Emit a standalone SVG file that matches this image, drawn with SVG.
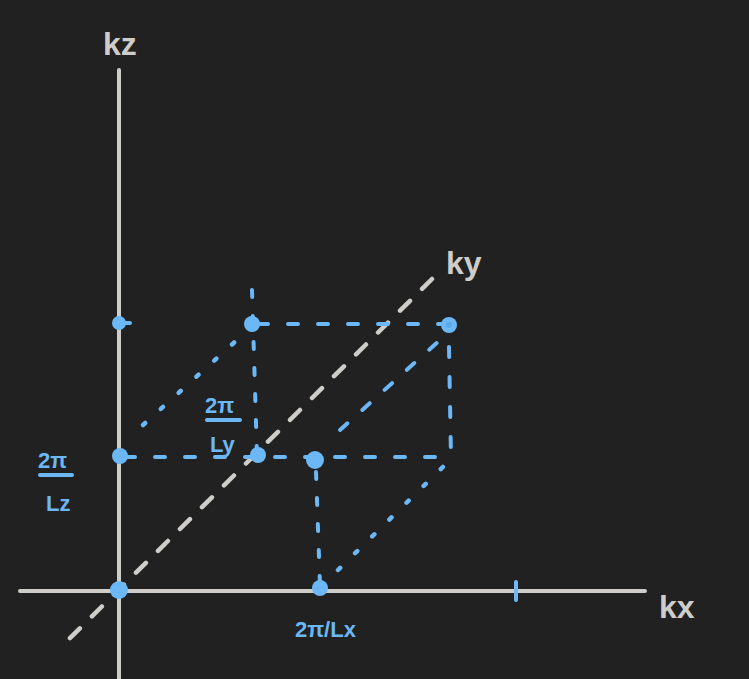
<svg xmlns="http://www.w3.org/2000/svg" width="749" height="679" viewBox="0 0 749 679">
<style>
.axis{stroke:#cfcdca;stroke-width:4;stroke-linecap:round;fill:none}
.dash{stroke:#cfcdca;stroke-width:4.5;stroke-linecap:round;fill:none;stroke-dasharray:14 17}
.b{stroke:#6cb8f7;stroke-width:4;stroke-linecap:round;fill:none}
.bd{stroke:#6cb8f7;stroke-width:4;stroke-linecap:round;fill:none;stroke-dasharray:7 19}
.bdl{stroke:#6cb8f7;stroke-width:4;stroke-linecap:round;fill:none;stroke-dasharray:10 20}
.bdot{stroke:#6cb8f7;stroke-width:4.5;stroke-linecap:round;fill:none;stroke-dasharray:3 21}
.pt{fill:#6cb8f7}
.lw{font-family:"Liberation Sans",sans-serif;fill:#cfcdca;font-size:32px;font-weight:bold}
.lb{font-family:"Liberation Sans",sans-serif;fill:#6cb8f7;font-size:22px;font-weight:bold}
</style>
<rect width="749" height="679" fill="#212121"/>
<g id="connectors">
<line class="axis" x1="119" y1="70" x2="119" y2="679"/>
<line class="axis" x1="20" y1="591" x2="645" y2="591"/>
<line class="dash" x1="432" y1="279" x2="58" y2="650"/>
<line class="b" x1="516" y1="582" x2="516" y2="600"/>
<line class="b" x1="119" y1="323" x2="130" y2="323"/>
<line class="bdl" x1="125" y1="457" x2="450" y2="457"/>
<line class="bdl" x1="258" y1="324" x2="446" y2="324"/>
<line class="bd" x1="252" y1="290" x2="257" y2="455"/>
<line class="bdl" x1="449" y1="347" x2="451" y2="457"/>
<line class="bdot" x1="143" y1="425" x2="248" y2="330"/>
<line class="bdot" x1="338" y1="570" x2="450" y2="460"/>
<line class="bd" x1="316" y1="472" x2="320" y2="585"/>
<line class="bdl" x1="340" y1="430" x2="440" y2="340"/>
</g>
<g id="origin"><circle class="pt" cx="119" cy="590" r="9"/></g>
<g id="z1"><circle class="pt" cx="120" cy="456" r="8"/></g>
<g id="z2"><circle class="pt" cx="119" cy="323" r="7"/></g>
<g id="p-yz"><circle class="pt" cx="252" cy="324" r="8"/></g>
<g id="p-xyz"><circle class="pt" cx="449" cy="325" r="8"/><circle cx="449" cy="325" r="3" fill="#5aa8e8"/></g>
<g id="p-y"><circle class="pt" cx="258" cy="455" r="8"/></g>
<g id="p-xz"><circle class="pt" cx="315" cy="460" r="9"/></g>
<g id="p-x"><circle class="pt" cx="320" cy="588" r="8"/></g>
<g id="labels">
<text class="lw" x="103" y="55">kz</text>
<text class="lw" x="446" y="274">ky</text>
<text class="lw" x="659" y="618">kx</text>
<text class="lb" x="38" y="468">2π</text>
<line class="b" x1="40" y1="475" x2="72" y2="475" stroke-width="3.5"/>
<text class="lb" x="46" y="511">Lz</text>
<text class="lb" x="205" y="413">2π</text>
<line class="b" x1="207" y1="420" x2="240" y2="420" stroke-width="3.5"/>
<text class="lb" x="210" y="452">Ly</text>
<text class="lb" x="295" y="637">2π/Lx</text>
</g>
</svg>
